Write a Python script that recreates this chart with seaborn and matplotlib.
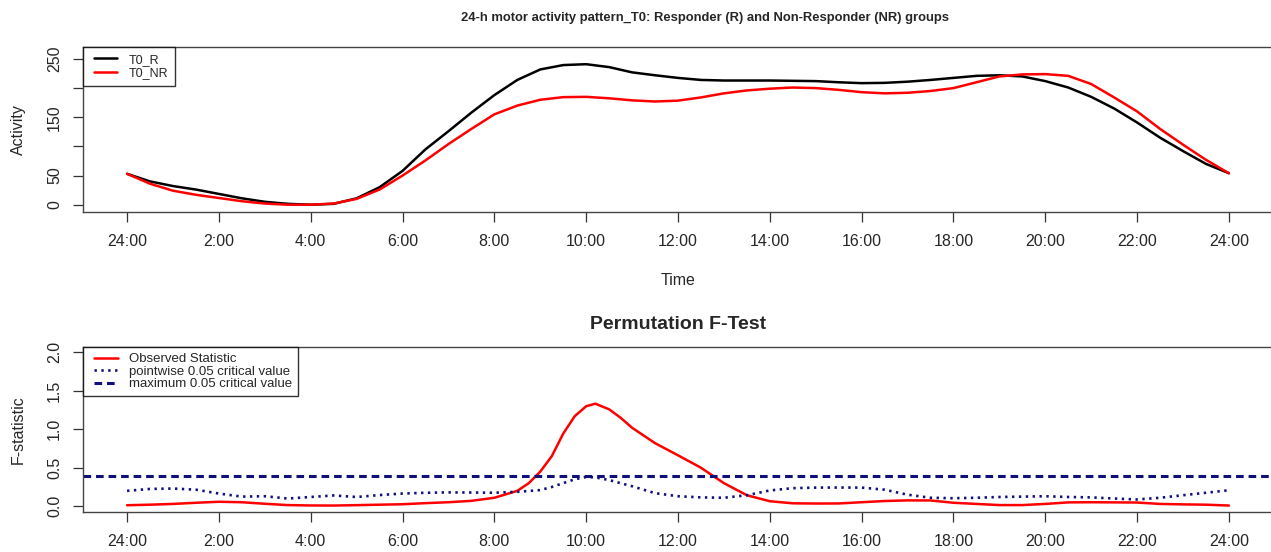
import numpy as np
import pandas as pd
import matplotlib
matplotlib.use('Agg')
import matplotlib.pyplot as plt
from matplotlib.lines import Line2D
from matplotlib.legend_handler import HandlerLine2D
import seaborn as sns

# hours after midnight (0 = 24:00 of the previous day)
hours = [0, 0.5, 1, 1.5, 2, 2.5, 3, 3.5, 4, 4.5, 5, 5.5, 6, 6.5, 7, 7.5, 8, 8.5,
         9, 9.5, 10, 10.5, 11, 11.5, 12, 12.5, 13, 13.5, 14, 14.5, 15, 15.5, 16,
         16.5, 17, 17.5, 18, 18.5, 19, 19.5, 20, 20.5, 21, 21.5, 22, 22.5, 23,
         23.5, 24]

# 24-h activity curves
t0_r = [53, 40, 32, 26, 18.5, 11, 5, 1.5, 0, 1.5, 11, 30, 58, 95, 126, 158, 188,
        214, 232, 239.5, 241, 236, 227, 222, 217.5, 214, 213, 213, 213, 212.5,
        212, 210, 208.5, 209, 211, 214, 217.5, 221, 222, 220, 212, 201, 185, 165,
        141, 115, 92, 70, 54]
t0_nr = [53, 36, 24, 17, 11.5, 6, 2, 0, 0, 2, 10, 26, 50, 76, 104, 130, 155,
         170, 180, 184.5, 185, 182.5, 179, 177, 178.5, 184, 191, 196, 199, 201,
         200, 197, 193, 191, 192, 195, 200, 210, 220, 223.5, 224, 221, 207, 184,
         160, 130, 103, 77, 54]

# permutation F-test
f_hours = [0, 0.5, 1, 1.5, 2, 2.5, 3, 3.5, 4, 4.5, 5, 5.5, 6, 6.5, 7, 7.5, 8,
           8.5, 8.75, 9, 9.25, 9.5, 9.75, 10, 10.2, 10.5, 10.75, 11, 11.5, 12,
           12.5, 13, 13.5, 14, 14.5, 15, 15.5, 16, 16.5, 17, 17.5, 18, 18.5, 19,
           19.5, 20, 20.5, 21, 21.5, 22, 22.5, 23, 23.5, 24]
f_observed = [0.013, 0.02, 0.03, 0.045, 0.058, 0.052, 0.032, 0.015, 0.01, 0.009,
              0.014, 0.02, 0.026, 0.04, 0.052, 0.07, 0.11, 0.2, 0.30, 0.45,
              0.65, 0.944, 1.17, 1.30, 1.333, 1.26, 1.15, 1.02, 0.82, 0.662,
              0.50, 0.30, 0.143, 0.065, 0.038, 0.035, 0.036, 0.052, 0.068,
              0.076, 0.075, 0.045, 0.03, 0.015, 0.015, 0.03, 0.05, 0.052, 0.05,
              0.048, 0.03, 0.024, 0.02, 0.009]
f_pointwise = [0.20, 0.225, 0.23, 0.215, 0.165, 0.125, 0.13, 0.10, 0.12, 0.14,
               0.12, 0.145, 0.165, 0.175, 0.18, 0.178, 0.175, 0.188, 0.198,
               0.21, 0.25, 0.30, 0.35, 0.38, 0.375, 0.34, 0.30, 0.26, 0.17,
               0.13, 0.115, 0.11, 0.143, 0.205, 0.235, 0.242, 0.243, 0.242,
               0.215, 0.15, 0.11, 0.104, 0.11, 0.12, 0.125, 0.13, 0.12, 0.115,
               0.10, 0.088, 0.11, 0.143, 0.175, 0.208]
f_max_crit = 0.39

tick_hours = list(range(0, 25, 2))
tick_labels = ['24:00', '2:00', '4:00', '6:00', '8:00', '10:00', '12:00',
               '14:00', '16:00', '18:00', '20:00', '22:00', '24:00']

sns.set_theme(style='white')
plt.rcParams['font.family'] = ['Liberation Sans', 'DejaVu Sans']
plt.rcParams['axes.edgecolor'] = '#444444'
plt.rcParams['axes.linewidth'] = 1.0

fig = plt.figure(figsize=(12.71, 5.52), dpi=100)
W, H = 1271, 552
ax1 = fig.add_axes([83 / W, 1 - 212 / H, 1190 / W, 165 / H])
ax2 = fig.add_axes([83 / W, 1 - 512 / H, 1190 / W, 165 / H])

activity = pd.DataFrame({'hour': hours, 'T0_R': t0_r, 'T0_NR': t0_nr})
ftest = pd.DataFrame({'hour': f_hours, 'observed': f_observed,
                      'pointwise': f_pointwise})

# top panel
sns.lineplot(data=activity, x='hour', y='T0_R', color='black', lw=1.8,
             label='T0_R', ax=ax1)
sns.lineplot(data=activity, x='hour', y='T0_NR', color='red', lw=1.8,
             label='T0_NR', ax=ax1)
ax1.set_xlim(-0.96, 24.96)
ax1.set_ylim(-12.5, 270.5)
ax1.set_yticks([0, 50, 100, 150, 200, 250])
ax1.set_yticklabels(['0', '50', '', '150', '', '250'])
ax1.set_xlabel('Time', fontsize=11.5)
ax1.set_ylabel('Activity', fontsize=11.5)
ax1.xaxis.set_label_coords(0.5, -0.37)
ax1.yaxis.set_label_coords(-0.048, 0.5)
ax1.legend(loc='upper left', borderaxespad=0, fancybox=False,
           edgecolor='black', fontsize=9, numpoints=2,
           handler_map={Line2D: HandlerLine2D(numpoints=2, marker_pad=0.35)},
           handlelength=2.54, handletextpad=0.58, labelspacing=0.12,
           borderpad=0.55)
fig.text(705 / W, 1 - 18 / H,
         '24-h motor activity pattern_T0: Responder (R) and Non-Responder (NR) groups',
         ha='center', va='center', fontsize=9.4, fontweight='bold',
         family=['Liberation Sans Narrow', 'Liberation Sans'])

# bottom panel
sns.lineplot(data=ftest, x='hour', y='observed', color='red', lw=1.8,
             label='Observed Statistic', ax=ax2)
sns.lineplot(data=ftest, x='hour', y='pointwise', color='#10107a', lw=1.9,
             linestyle=(0, (0.9, 1.7)), label='pointwise 0.05 critical value',
             ax=ax2)
ax2.axhline(f_max_crit, color='#10107a', lw=2.2, linestyle=(0, (2.5, 1.6)),
            label='maximum 0.05 critical value')
ax2.set_xlim(-0.96, 24.96)
ax2.set_ylim(-0.075, 2.07)
ax2.set_yticks([0, 0.5, 1.0, 1.5, 2.0])
ax2.set_yticklabels(['0.0', '0.5', '1.0', '1.5', '2.0'])
ax2.set_xlabel('')
ax2.set_ylabel('F-statistic', fontsize=11.5)
ax2.yaxis.set_label_coords(-0.048, 0.5)
ax2.set_title('Permutation F-Test', fontsize=14, fontweight='bold', pad=13)
ax2.legend(loc='upper left', borderaxespad=0, fancybox=False,
           edgecolor='black', fontsize=9.5, numpoints=2,
           handler_map={Line2D: HandlerLine2D(numpoints=2, marker_pad=0.38)},
           handlelength=2.58, handletextpad=0.45, labelspacing=0.02,
           borderpad=0.45)

for ax in (ax1, ax2):
    ax.set_xticks(tick_hours)
    ax.set_xticklabels(tick_labels)
    ax.tick_params(axis='both', direction='out', length=7, width=0.9,
                   color='#333333', labelsize=11.5, left=True, bottom=True)
    ax.tick_params(axis='x', pad=9)
    ax.tick_params(axis='y', pad=8)
    for lab in ax.get_yticklabels():
        lab.set_rotation(90)
        lab.set_va('center')
    ax.legend_.get_frame().set_linewidth(1.0)

fig.savefig('out.png', dpi=100)
